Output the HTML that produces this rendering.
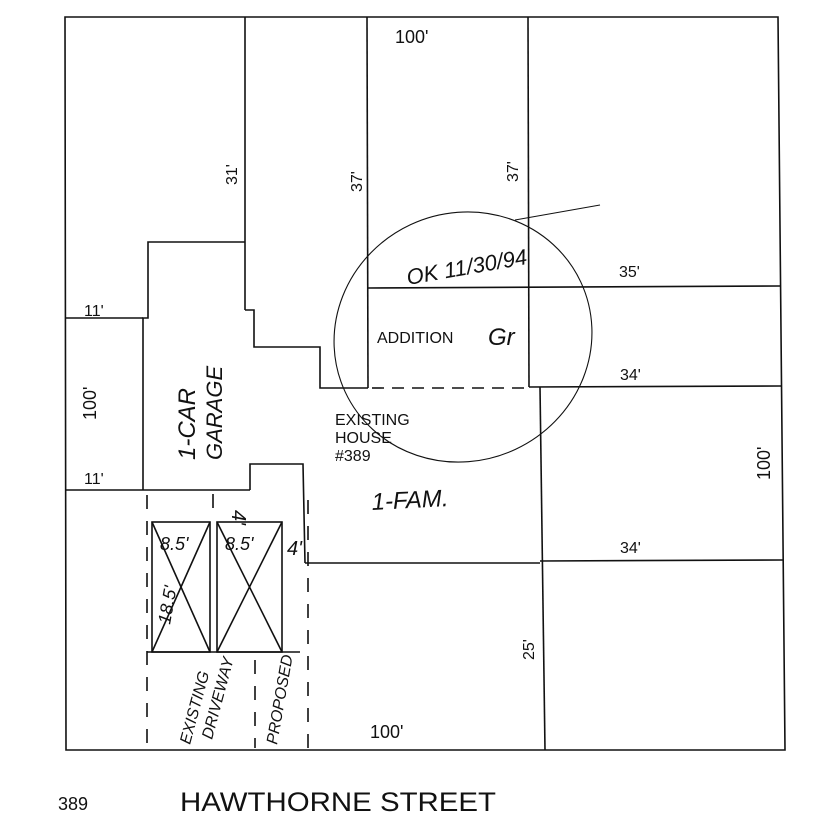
<!DOCTYPE html>
<html><head><meta charset="utf-8"><style>
html,body{margin:0;padding:0;background:#fff;}
svg{display:block}
text{font-family:"Liberation Sans",sans-serif;fill:#111;}
</style></head><body>
<svg width="830" height="820" viewBox="0 0 830 820" xmlns="http://www.w3.org/2000/svg">
<g stroke="#111" stroke-width="1.6" fill="none">
<polygon points="65,17 778,17 785,750 66,750"/>
<!-- top verticals -->
<line x1="245" y1="17" x2="245" y2="310"/>
<line x1="367" y1="17" x2="368" y2="388"/>
<line x1="528" y1="17" x2="529" y2="387"/>
<!-- right lot horizontals -->
<line x1="368" y1="288" x2="780" y2="286"/>
<line x1="529" y1="387" x2="781" y2="386"/>
<line x1="540" y1="387" x2="545" y2="750"/>
<line x1="305" y1="563" x2="540" y2="563"/>
<line x1="540" y1="561" x2="783" y2="560"/>
<!-- house/garage outline -->
<polyline points="245,242 148,242 148,318 143,318 143,490"/>
<polyline points="245,310 254,310 254,347 320,347 320,388 368,388"/>
<line x1="65" y1="318" x2="143" y2="318"/>
<line x1="65" y1="490" x2="250" y2="490"/>
<polyline points="250,490 250,464 303,464 305,563"/>
<!-- dashed addition line -->
<line x1="372" y1="388" x2="530" y2="388" stroke-dasharray="12,8"/>
<!-- driveway boxes -->
<rect x="152" y="522" width="58" height="130"/>
<line x1="152" y1="522" x2="210" y2="652"/><line x1="210" y1="522" x2="152" y2="652"/>
<rect x="217" y="522" width="65" height="130"/>
<line x1="217" y1="522" x2="282" y2="652"/><line x1="282" y1="522" x2="217" y2="652"/>
<line x1="147" y1="652" x2="300" y2="652"/>
<!-- dashed verticals -->
<line x1="147" y1="495" x2="147" y2="750" stroke-dasharray="14,12"/>
<line x1="255" y1="660" x2="255" y2="748" stroke-dasharray="14,12"/>
<line x1="308" y1="500" x2="308" y2="750" stroke-dasharray="14,12"/>
<line x1="213" y1="494" x2="213" y2="508"/>
<!-- circle -->
<ellipse cx="463" cy="337" rx="130" ry="124" transform="rotate(-25 463 337)" stroke-width="1.1"/>
<line x1="515" y1="220" x2="600" y2="205" stroke-width="1"/>
</g>
<g font-size="16">
<text x="395" y="43" font-size="18">100'</text>
<text x="619" y="277">35'</text>
<text x="377" y="343">ADDITION</text>
<text x="620" y="380">34'</text>
<text x="620" y="553">34'</text>
<text x="370" y="738" font-size="18">100'</text>
<text x="84" y="316">11'</text>
<text x="84" y="484">11'</text>
<text x="335" y="425">EXISTING</text>
<text x="335" y="443">HOUSE</text>
<text x="335" y="461">#389</text>
<text transform="translate(237,185) rotate(-90)">31'</text>
<text transform="translate(362,192) rotate(-90)">37'</text>
<text transform="translate(518,182) rotate(-90)">37'</text>
<text transform="translate(96,420) rotate(-90)" font-size="18">100'</text>
<text transform="translate(770,480) rotate(-90)" font-size="18">100'</text>
<text transform="translate(534,660) rotate(-90)">25'</text>
</g>
<g font-style="italic" fill="#222">
<text transform="translate(195,460) rotate(-90)" font-size="24">1-CAR</text>
<text transform="translate(222,460) rotate(-90)" font-size="22">GARAGE</text>
<text x="372" y="510" font-size="24" transform="rotate(-3 372 510)">1-FAM.</text>
<text x="160" y="550" font-size="18">8.5'</text>
<text x="225" y="550" font-size="18">8.5'</text>
<text x="287" y="555" font-size="20">4'</text>
<text transform="translate(232,510) rotate(90)" font-size="20">4'</text>
<text transform="translate(170,625) rotate(-80)" font-size="18">18.5'</text>
<text transform="translate(190,745) rotate(-75)" font-size="16">EXISTING</text>
<text transform="translate(212,740) rotate(-75)" font-size="16">DRIVEWAY</text>
<text transform="translate(277,745) rotate(-80)" font-size="16">PROPOSED</text>
<text x="408" y="285" font-size="22" transform="rotate(-10 408 285)">OK 11/30/94</text>
<text x="488" y="345" font-size="24">Gr</text>
</g>
<text x="58" y="810" font-size="18" fill="#999">389</text>
<text x="180" y="811" font-size="27" textLength="316" lengthAdjust="spacingAndGlyphs">HAWTHORNE STREET</text>
</svg>
</body></html>
